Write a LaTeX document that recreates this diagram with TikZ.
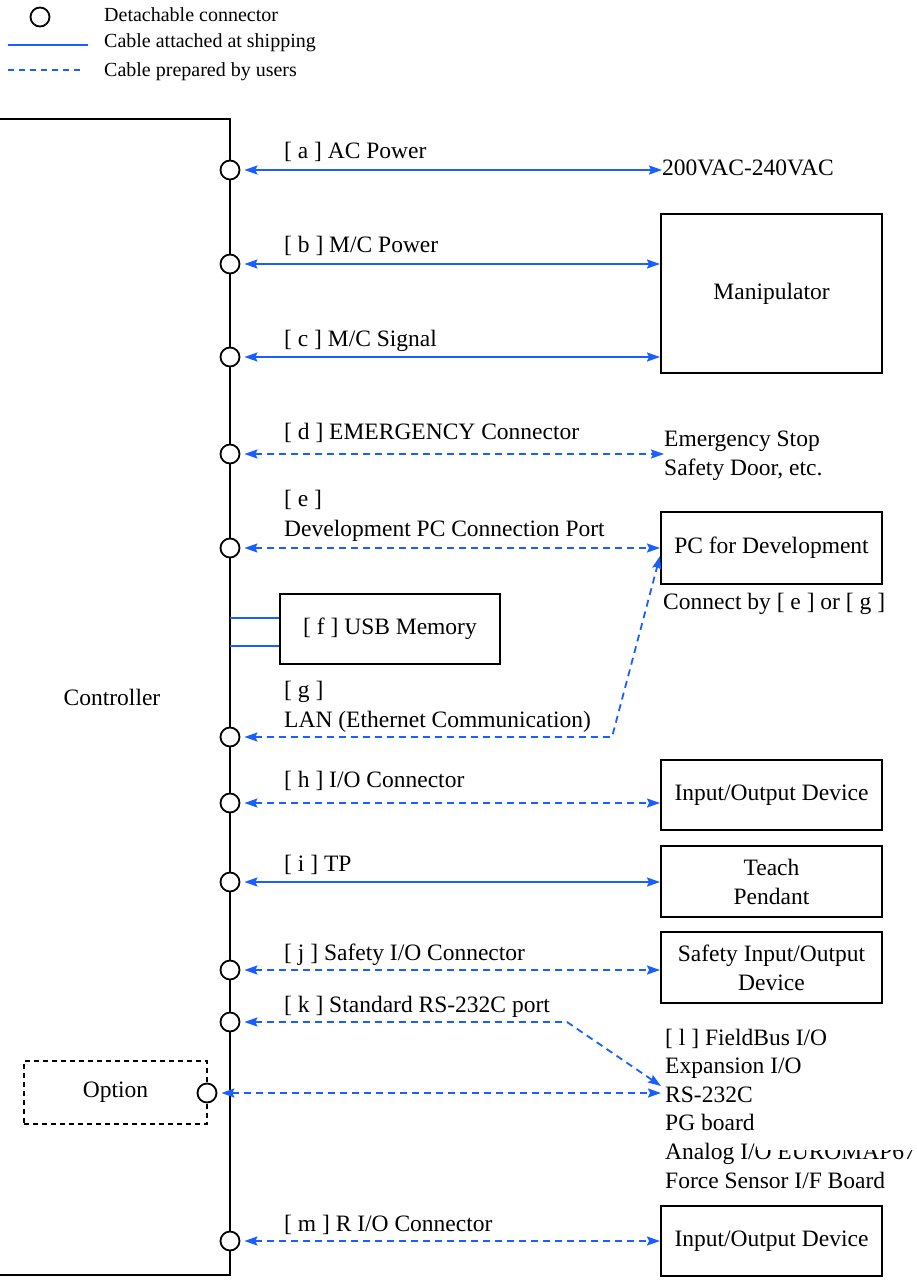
\documentclass[tikz,border=0pt]{standalone}
\usepackage{fontspec}
\setmainfont{Liberation Serif}
\usetikzlibrary{arrows.meta}
\definecolor{cblue}{RGB}{25,95,255}
\begin{document}
\begin{tikzpicture}[x=1pt,y=-1pt,
  conn/.style={circle,draw=black,fill=white,line width=1.8pt,minimum size=19pt,inner sep=0pt},
  devbox/.style={draw=black,line width=2pt,minimum width=221pt,minimum height=71pt,align=center,inner sep=2pt,font=\fontsize{23.5}{29}\selectfont},
  lbl/.style={anchor=base west,inner sep=0pt,font=\fontsize{23.5}{30}\selectfont,align=left},
  txt/.style={inner sep=0pt,font=\fontsize{23.5}{29}\selectfont,align=left},
  legtxt/.style={anchor=west,inner sep=0pt,font=\fontsize{20}{24}\selectfont},
  cable/.style={draw=cblue,line width=1.8pt,{Stealth[length=13pt,width=9pt,inset=2pt]}-{Stealth[length=13pt,width=9pt,inset=2pt]},shorten <=4pt},
  ucable/.style={cable,dash pattern=on 7pt off 5pt},
  ]
\useasboundingbox (0,0) rectangle (917,1282);

% legend
\node[conn] (legc) at (40,17) {};
\coordinate (ls1) at (8,45);
\coordinate (le1) at (88,45);
\coordinate (ls2) at (8,70);
\coordinate (le2) at (84,70);
\draw[cblue,line width=2pt] (ls1) -- (le1);
\draw[cblue,line width=2pt,dash pattern=on 6pt off 5pt] (ls2) -- (le2);
\node[legtxt] (lt1) at (104,15) {Detachable connector};
\node[legtxt] (lt2) at (104,43) {Cable attached at shipping};
\node[legtxt] (lt3) at (104,72) {Cable prepared by users};

% controller
\draw[line width=2pt] (-3,119) -- (230,119) -- (230,1275) -- (-3,1275);
\node[txt] (ctrl) at (112,697) {Controller};

% option
\node[draw=black,line width=1.6pt,dash pattern=on 5pt off 4pt,minimum width=183pt,minimum height=63pt,inner sep=0pt,font=\fontsize{23.5}{29}\selectfont] (opt) at (115.5,1092.5) {Option};

% connectors on controller
\node[conn] (ca) at (230,170) {};
\node[conn] (cb) at (230,264) {};
\node[conn] (cc) at (230,357) {};
\node[conn] (cd) at (230,454) {};
\node[conn] (ce) at (230,548) {};
\node[conn] (cg) at (230,737) {};
\node[conn] (ch) at (230,803) {};
\node[conn] (ci) at (230,882) {};
\node[conn] (cj) at (230,970) {};
\node[conn] (ck) at (230,1022) {};
\node[conn] (co) at (207,1093) {};
\node[conn] (cm) at (230,1241) {};

% devices
\node[txt,anchor=west] (ac) at (662,168) {200VAC-240VAC};
\node[devbox,minimum height=159pt] (manip) at (771.5,293.5) {Manipulator};
\node[txt,anchor=west] (emg) at (664,455.5) {Emergency Stop\\Safety Door, etc.};
\node[devbox,minimum height=72pt] (pc) at (771.5,548) {PC for Development};
\node[txt,anchor=base west] (pcnote) at (663,609) {Connect by [ e ] or [ g ]};
\node[devbox,minimum width=220pt,minimum height=70pt] (usb) at (390,629) {[ f ] USB Memory};
\node[devbox,minimum height=70pt] (ioh) at (771.5,795) {Input/Output Device};
\node[devbox] (tp) at (771.5,881.5) {Teach\\Pendant};
\node[devbox] (sio) at (771.5,967.5) {Safety Input/Output\\Device};
\node[txt,anchor=west,font=\fontsize{23.5}{28.6}\selectfont] (opts) at (665,1108.5) {[ l ] FieldBus I/O\\Expansion I/O\\RS-232C\\PG board\\Analog I/O EUROMAP67\\Force Sensor I/F Board};
\fill[white] (757,1132) rectangle (917,1150);
\node[devbox,minimum height=70pt] (iom) at (771.5,1241) {Input/Output Device};

% labels
\node[lbl] (la) at (284,158) {[ a ] AC Power};
\node[lbl] (lb) at (284,252) {[ b ] M/C Power};
\node[lbl] (lc) at (284,346) {[ c ] M/C Signal};
\node[lbl] (ld) at (284,439) {[ d ] EMERGENCY Connector};
\node[lbl] (le) at (284,536) {[ e ]\\Development PC Connection Port};
\node[lbl] (lg) at (284,727) {[ g ]\\LAN (Ethernet Communication)};
\node[lbl] (lh) at (284,787) {[ h ] I/O Connector};
\node[lbl] (li) at (284,871) {[ i ] TP};
\node[lbl] (lj) at (284,960) {[ j ] Safety I/O Connector};
\node[lbl] (lk) at (284,1012) {[ k ] Standard RS-232C port};
\node[lbl] (lm) at (284,1231) {[ m ] R I/O Connector};

% cables
\draw[cable] (ca.east) -- (ac.west |- ca.east);
\draw[cable] (cb.east) -- (manip.west |- cb.east);
\draw[cable] (cc.east) -- (manip.west |- cc.east);
\draw[ucable] (cd.east) -- (emg.west |- cd.east);
\draw[ucable] (ce.east) -- (pc.west |- ce.east);
\coordinate (gbend) at (612,737);
\draw[ucable] (cg.east) -- (gbend) -- ([yshift=-8pt]pc.west);
\draw[ucable] (ch.east) -- (ioh.west |- ch.east);
\draw[cable] (ci.east) -- (tp.west |- ci.east);
\draw[ucable] (cj.east) -- (sio.west |- cj.east);
\coordinate (kbend) at (567,1022);
\coordinate (rsk) at (661,1086);
\coordinate (rso) at (661,1093);
\draw[ucable] (ck.east) -- (kbend) -- (rsk);
\draw[ucable] (co.east) -- (rso);
\draw[ucable] (cm.east) -- (iom.west |- cm.east);
\draw[cblue,line width=1.2pt] (230,618) -- (usb.west |- 0,618);
\draw[cblue,line width=1.2pt] (230,646) -- (usb.west |- 0,646);
\end{tikzpicture}
\end{document}
